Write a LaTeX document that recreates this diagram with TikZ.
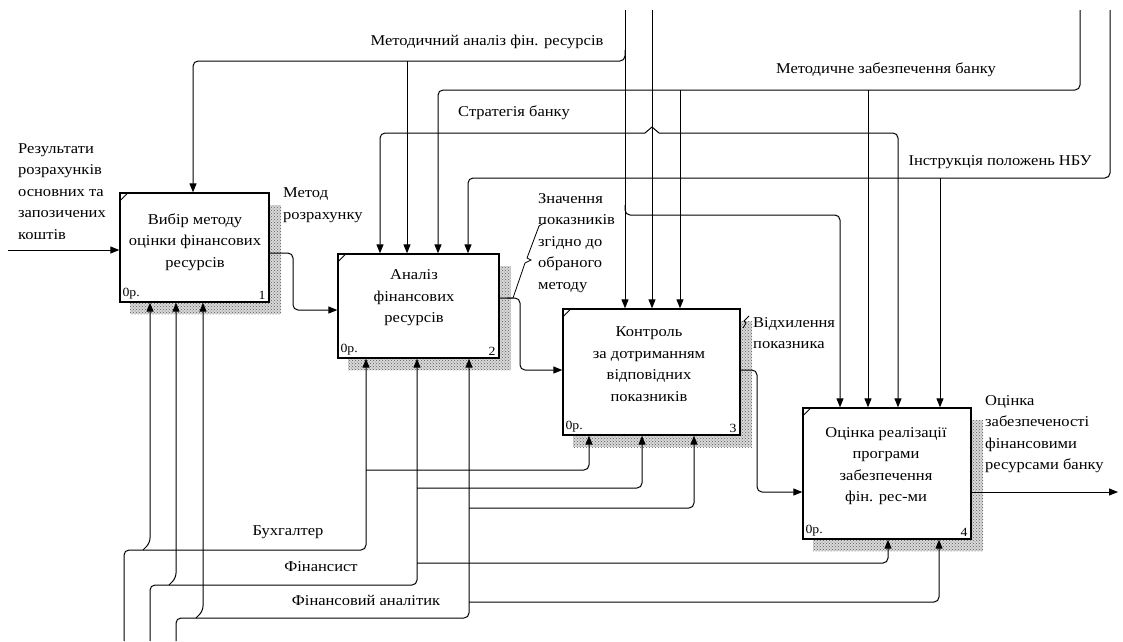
\documentclass[tikz,border=0pt]{standalone}
\usepackage{fontspec}
\setmainfont{Liberation Serif}[FakeStretch=1.1]
\usetikzlibrary{arrows.meta,patterns,calc}
\newcommand\lblfont{\fontsize{15}{21.5}\selectfont}
\newcommand\smallfnt{\fontsize{12.5}{14}\selectfont}
\tikzset{
  fnbox/.style={draw, line width=1.3pt, fill=white, inner sep=0pt},
  conn/.style={line width=1pt, rounded corners=5pt},
  arr/.style={conn, -{Triangle[length=9pt,width=7pt]}},
  lbl/.style={font=\lblfont, align=left, inner sep=0pt},
  boxtext/.style={font=\lblfont, align=center, inner sep=0pt},
  shadbase/.style={fill=gray!30},
  shad/.style={pattern=crosshatch dots, pattern color=black!65},
  tag/.style={font=\smallfnt, inner sep=0pt}
}
\begin{document}
\begin{tikzpicture}[x=1pt,y=-1pt]
\useasboundingbox (0,0) rectangle (1123,641);
% shadows
\foreach \a/\b/\c/\d in {130/205/281/314, 348/266/511/370, 573/321/752/447, 813/420/983/551}{
  \fill[shadbase] (\a,\b) rectangle (\c,\d);
  \fill[shad] (\a,\b) rectangle (\c,\d);
}
% boxes
\node[fnbox, minimum width=149pt, minimum height=109pt] (b1) at (194.5,247.5) {};
\node[fnbox, minimum width=161pt, minimum height=104pt] (b2) at (418.5,306) {};
\node[fnbox, minimum width=177pt, minimum height=126pt] (b3) at (651.5,372) {};
\node[fnbox, minimum width=168pt, minimum height=131pt] (b4) at (887,473.5) {};
\foreach \b in {b1,b2,b3,b4}{
  \draw[line width=0.8pt] ($(\b.north west)+(0,9)$) -- ($(\b.north west)+(9,0)$);
  \node[tag, anchor=south west] at ($(\b.south west)+(3,-3)$) {0р.};
}
\node[tag, anchor=south east] at ($(b1.south east)+(-4,-3)$) {1};
\node[tag, anchor=south east] at ($(b2.south east)+(-4,-3)$) {2};
\node[tag, anchor=south east] at ($(b3.south east)+(-4,-3)$) {3};
\node[tag, anchor=south east] at ($(b4.south east)+(-4,-3)$) {4};
% box texts
\node[boxtext] (t1) at (195,242) {Вибір методу\\оцінки фінансових\\ресурсів};
\node[boxtext] (t2) at (414,298) {Аналіз\\фінансових\\ресурсів};
\node[boxtext] (t3) at (649,364) {Контроль\\за дотриманням\\відповідних\\показників};
\node[boxtext] (t4) at (886,466) {Оцінка реалізації\\програми\\забезпечення\\фін. рес-ми};
% sources
\coordinate (T1) at (625,10);
\coordinate (T2) at (652,10);
\coordinate (T3) at (1080,10);
\coordinate (T4) at (1110,10);
\coordinate (B1) at (124,641);
\coordinate (B2) at (150,641);
\coordinate (B3) at (176,641);
\coordinate (I1) at (8,250);
\coordinate (O1) at (1118,492);
% controls
\draw[arr] (T1) -- (625,0 |- b3.north);
\draw[arr] (625,50) |- (193,61) -- (193,0 |- b1.north);
\draw[arr] (407,61) -- (407,0 |- b2.north);
\draw[arr] (625,205) |- (840,215) -- (840,0 |- b4.north);
\draw[arr] (T2) -- (652,0 |- b3.north);
\draw[line width=1pt] (645,133) -- (652,127) -- (659,133);
\draw[arr] (645,133) -- (380,133) -- (380,0 |- b2.north);
\draw[arr] (659,133) -- (898,133) -- (898,0 |- b4.north);
\draw[arr] (T3) |- (438,90) -- (438,0 |- b2.north);
\draw[arr] (680,90) -- (680,0 |- b3.north);
\draw[arr] (868,90) -- (868,0 |- b4.north);
\draw[arr] (T4) |- (468,178) -- (468,0 |- b2.north);
\draw[arr] (940,178) -- (940,0 |- b4.north);
% inputs / outputs
\draw[arr] (I1) -- (b1.west |- I1);
\draw[arr] (b1.east |- 0,253) -- (293,253) -- (293,310) -- (b2.west |- 0,310);
\draw[arr] (b2.east |- 0,298) -- (520,298) -- (520,370) -- (b3.west |- 0,370);
\draw[arr] (b3.east |- 0,370) -- (757,370) -- (757,492) -- (b4.west |- 0,492);
\draw[arr] (b4.east |- O1) -- (O1);
% mechanisms
\draw[arr] (B1) |- (366,550) -- (366,0 |- b2.south);
\draw[arr] (143,550) -- (150,543) -- (150,0 |- b1.south);
\draw[arr] (B2) |- (417,585) -- (417,0 |- b2.south);
\draw[arr] (169,585) -- (176,578) -- (176,0 |- b1.south);
\draw[arr] (B3) |- (469,618) -- (469,0 |- b2.south);
\draw[arr] (196,618) -- (203,611) -- (203,0 |- b1.south);
\draw[arr] (366,470) -| (589,0 |- b3.south);
\draw[arr] (417,488) -| (642,0 |- b3.south);
\draw[arr] (469,508) -| (694,0 |- b3.south);
\draw[arr] (417,563) -| (888,0 |- b4.south);
\draw[arr] (469,602) -| (939,0 |- b4.south);
% squiggles
\draw[line width=0.8pt] (507,298) -- (513,298) -- (525,263) -- (531,260) -- (527,258) -- (539,226) -- (544,223);
\draw[line width=0.8pt] (743,328) -- (746,323) -- (744,321) -- (749,316);
% labels
\node[lbl, anchor=north west] (l1) at (18,143) {Результати\\розрахунків\\основних та\\запозичених\\коштів};
\node[lbl, anchor=west] (l2) at (283,205) {Метод\\розрахунку};
\node[lbl, anchor=west] (l3) at (538,243) {Значення\\показників\\згідно до\\обраного\\методу};
\node[lbl, anchor=west] (l4) at (753,333) {Відхилення\\показника};
\node[lbl, anchor=west] (l5) at (985,434) {Оцінка\\забезпеченості\\фінансовими\\ресурсами банку};
\node[lbl] (l6) at (487,42) {Методичний аналіз фін. ресурсів};
\node[lbl] (l7) at (514,113) {Стратегія банку};
\node[lbl] (l8) at (886,70) {Методичне забезпечення банку};
\node[lbl] (l9) at (1000,162) {Інструкція положень НБУ};
\node[lbl] (l10) at (288,532) {Бухгалтер};
\node[lbl] (l11) at (321,567) {Фінансист};
\node[lbl] (l12) at (366,600) {Фінансовий аналітик};
\end{tikzpicture}
\end{document}
